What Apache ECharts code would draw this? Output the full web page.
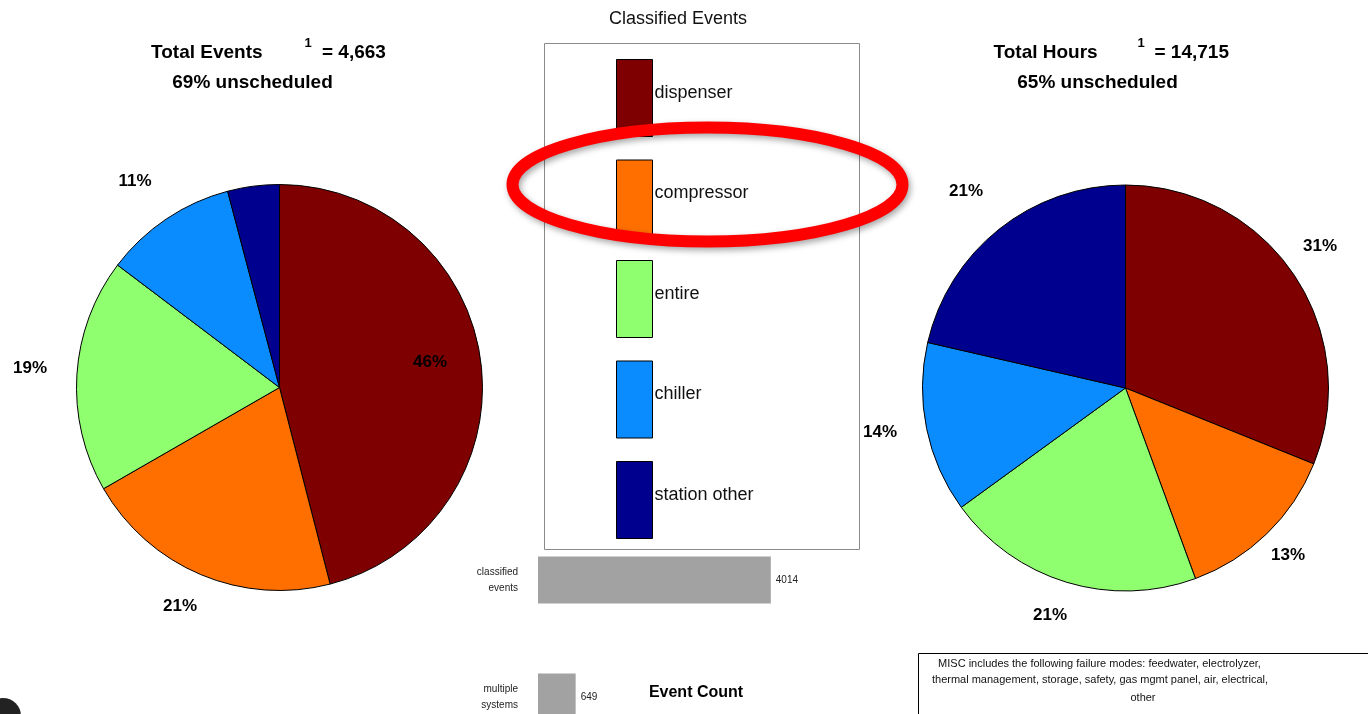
<!DOCTYPE html>
<html><head><meta charset="utf-8">
<script src="https://cdn.jsdelivr.net/npm/echarts/dist/echarts.min.js"></script>
<style>html,body{margin:0;padding:0;background:#fff;overflow:hidden}#c{width:1368px;height:760px}</style>
</head><body><div id="c"></div>
<script>
// ---- data ----
const categories = ['dispenser', 'compressor', 'entire', 'chiller', 'station other'];
const eventCounts = [1846, 831, 747, 425, 165];          // Total Events pie (classified events)
const hourShares = [31.1, 13.3, 20.6, 13.6, 21.4];       // Total Hours pie (%)
const barCategories = ['classified\nevents', 'multiple\nsystems'];
const barValues = [4014, 649];
const totalEvents = '4,663';
const totalHours = '14,715';
const eventsUnscheduled = '69% unscheduled';
const hoursUnscheduled = '65% unscheduled';
const miscLines = [
  'MISC includes the following failure modes: feedwater, electrolyzer,',
  'thermal management, storage, safety, gas mgmt panel, air, electrical,',
  'other'
];

// ---- styles / layout ----
const FONT = "'Liberation Sans', Arial, sans-serif";
const colors = ['#7f0000', '#ff6f00', '#8fff6f', '#0a8cff', '#00008f'];
const leftLabelPos = [[430, 362], [180, 606], [30, 368], [135, 181], null];
const rightLabelPos = [[1320, 246], [1288, 555], [1050, 615], [880, 432], [966, 191]];

function pieData(values, hideIdx) {
  return categories.map((n, i) => {
    const d = { name: n, value: values[i], itemStyle: { color: colors[i] } };
    if (hideIdx === i) d.label = { show: false };
    return d;
  });
}
function layoutFrom(pos) {
  return function (p) {
    const q = pos[p.dataIndex];
    if (!q) return {};
    return { x: q[0], y: q[1], align: 'center', verticalAlign: 'middle' };
  };
}
const pieLabel = {
  show: true, position: 'inside', color: '#000', fontFamily: FONT,
  fontWeight: 'bold', fontSize: 17,
  formatter: p => Math.round(p.percent) + '%'
};
const pieBase = {
  type: 'pie', radius: 203, startAngle: 90, clockwise: true,
  itemStyle: { borderColor: '#000', borderWidth: 1 },
  labelLine: { show: false }, label: pieLabel,
  emphasis: { disabled: true }, silent: true
};

function txt(x, y, text, size, bold, align, color) {
  return {
    type: 'text', x: x, y: y, z: 20,
    style: {
      text: text, fill: color || '#000', textAlign: align || 'left', textVerticalAlign: 'middle',
      font: (bold ? 'bold ' : '') + size + 'px ' + FONT
    }
  };
}

const chart = echarts.init(document.getElementById('c'));
chart.setOption({
  animation: false,
  backgroundColor: '#fff',
  legend: {
    data: categories, orient: 'vertical', left: 616, top: 59, padding: 0,
    itemWidth: 36, itemHeight: 77, itemGap: 22.5, icon: 'rect',
    itemStyle: { borderColor: '#000', borderWidth: 1 },
    formatter: '{t|{name}}',
    textStyle: {
      fontFamily: FONT, fontSize: 18, color: '#111',
      rich: { t: { fontFamily: FONT, fontSize: 18, color: '#111', padding: [0, 0, 10, -3] } }
    },
    selectedMode: false
  },
  grid: { left: 538, top: 521.5, width: 290, height: 234, containLabel: false },
  xAxis: { type: 'value', min: 0, max: 5000, show: false },
  yAxis: {
    type: 'category', data: barCategories, inverse: true,
    axisLine: { show: false },
    axisTick: { show: true, inside: true, length: 3, alignWithLabel: true, lineStyle: { color: '#fff' } },
    axisLabel: { fontFamily: FONT, fontSize: 10, color: '#222', lineHeight: 16, margin: 20, align: 'right' }
  },
  series: [
    Object.assign({}, pieBase, { center: [279.5, 387.5], data: pieData(eventCounts, 4), labelLayout: layoutFrom(leftLabelPos) }),
    Object.assign({}, pieBase, { center: [1125.5, 388], data: pieData(hourShares), labelLayout: layoutFrom(rightLabelPos) }),
    {
      type: 'bar', data: barValues, barWidth: 47, silent: true,
      itemStyle: { color: '#a2a2a2' },
      label: { show: true, position: 'right', distance: 5, fontFamily: FONT, fontSize: 10, color: '#222' }
    }
  ],
  graphic: [
    // legend frame and title
    { type: 'rect', z: 1, shape: { x: 544.5, y: 43.5, width: 315, height: 506 }, style: { fill: 'none', stroke: '#8a8a8a', lineWidth: 1 } },
    txt(678, 19, 'Classified Events', 18, false, 'center', '#111'),
    // pie headings
    txt(151, 52.5, 'Total Events', 19, true, 'left'),
    txt(308, 43, '1', 13, true, 'center'),
    txt(322, 52.5, '= ' + totalEvents, 19, true, 'left'),
    txt(252.5, 82.5, eventsUnscheduled, 19, true, 'center'),
    txt(993.5, 52.5, 'Total Hours', 19, true, 'left'),
    txt(1141, 43, '1', 13, true, 'center'),
    txt(1154.5, 52.5, '= ' + totalHours, 19, true, 'left'),
    txt(1097.5, 82.5, hoursUnscheduled, 19, true, 'center'),
    // bar chart heading
    txt(696, 693, 'Event Count', 16, true, 'center'),
    // highlight ellipse
    {
      type: 'ellipse', z: 30, shape: { cx: 707.5, cy: 184.5, rx: 195, ry: 57 },
      style: { fill: 'none', stroke: '#ff0000', lineWidth: 12, shadowBlur: 6, shadowColor: 'rgba(0,0,0,0.35)', shadowOffsetX: 2, shadowOffsetY: 3 }
    },
    // MISC note box
    { type: 'rect', z: 10, shape: { x: 918.5, y: 653.5, width: 470, height: 80 }, style: { fill: '#fff', stroke: '#000', lineWidth: 1 } },
    txt(1099.5, 663.5, miscLines[0], 11, false, 'center', '#111'),
    txt(1100, 680, miscLines[1], 11, false, 'center', '#111'),
    txt(1143, 697.5, miscLines[2], 11, false, 'center', '#111'),
    // partial logo at bottom-left corner
    { type: 'circle', z: 10, shape: { cx: 3, cy: 716, r: 18 }, style: { fill: '#222' } }
  ]
});
</script>
</body></html>
